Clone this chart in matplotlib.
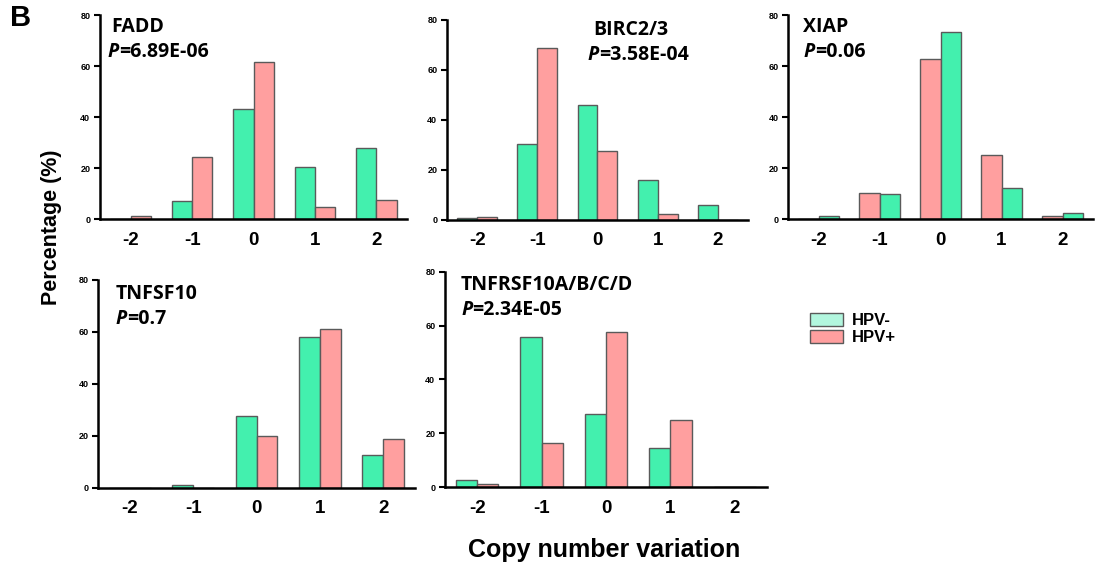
import matplotlib
matplotlib.use('Agg')
import matplotlib.pyplot as plt
from matplotlib.patches import Patch
import numpy as np

plt.rcParams['font.family'] = ['Liberation Sans', 'DejaVu Sans']

cnv = ['-2', '-1', '0', '1', '2']

genes = ['FADD', 'BIRC2/3', 'XIAP', 'TNFSF10', 'TNFRSF10A/B/C/D']
pvals = ['=6.89E-06', '=3.58E-04', '=0.06', '=0.7', '=2.34E-05']

hpv_neg = [
    [0, 7.1, 43.2, 20.4, 27.8],
    [0.8, 30.5, 46.0, 16.1, 5.9],
    [1.0, 9.8, 73.3, 12.2, 2.4],
    [0, 1.2, 27.8, 58.1, 12.8],
    [2.7, 55.7, 27.3, 14.4, 0],
]
hpv_pos = [
    [1.0, 24.5, 61.4, 4.8, 7.3],
    [1.2, 68.7, 27.5, 2.4, 0],
    [0, 10.3, 62.7, 25.0, 1.0],
    [0, 0, 20.0, 61.3, 18.7],
    [1.2, 16.3, 57.8, 25.0, 0],
]
# XIAP panel has HPV+ bars drawn first (left)
pos_first = [False, False, True, False, False]

green = '#43F0AE'
pink = '#FF9F9F'
edge = '#5a5a5a'

fig = plt.figure(figsize=(11.04, 5.69), dpi=100)

rects = [
    [0.0906, 0.6151, 0.2781, 0.3585],
    [0.4049, 0.6134, 0.2726, 0.3515],
    [0.7138, 0.6151, 0.2763, 0.3585],
    [0.0888, 0.1424, 0.2871, 0.3656],
    [0.4031, 0.1441, 0.2916, 0.3779],
]
# gene label / p-value anchors (axes fraction)
gene_pos = [(0.035, 0.99), (0.485, 1.0), (0.05, 0.99), (0.055, 0.98), (0.05, 0.985)]
p_pos = [(0.025, 0.87), (0.468, 0.875), (0.05, 0.87), (0.055, 0.86), (0.05, 0.87)]

w = 0.33
x = np.arange(len(cnv))
for k in range(5):
    ax = fig.add_axes(rects[k])
    if pos_first[k]:
        ax.bar(x - w / 2, hpv_pos[k], w, color=pink, edgecolor=edge, linewidth=1)
        ax.bar(x + w / 2, hpv_neg[k], w, color=green, edgecolor=edge, linewidth=1)
    else:
        ax.bar(x - w / 2, hpv_neg[k], w, color=green, edgecolor=edge, linewidth=1)
        ax.bar(x + w / 2, hpv_pos[k], w, color=pink, edgecolor=edge, linewidth=1)
    ax.set_xlim(-0.5, 4.5)
    ax.set_ylim(0, 80)
    ax.set_yticks([0, 20, 40, 60, 80])
    ax.set_xticks(x)
    ax.set_xticklabels(cnv, fontsize=13.5, fontweight='bold')
    ax.tick_params(axis='x', length=0, pad=9)
    ax.tick_params(axis='y', length=4, width=1.5, labelsize=6.5, pad=3)
    for lab in ax.get_yticklabels():
        lab.set_fontweight('bold')
    for s in ['top', 'right']:
        ax.spines[s].set_visible(False)
    for s in ['left', 'bottom']:
        ax.spines[s].set_linewidth(1.8)
    gx, gy = gene_pos[k]
    ax.text(gx, gy, genes[k], transform=ax.transAxes, fontsize=14,
            fontweight='bold', family='Open Sans', va='top', ha='left')
    px, py = p_pos[k]
    t = ax.text(px, py, 'P', transform=ax.transAxes, fontsize=14,
                fontweight='bold', style='italic', family='Open Sans',
                va='top', ha='left')
    ax.annotate(pvals[k], xy=(1, 0), xycoords=t, fontsize=14,
                fontweight='bold', family='Open Sans', va='bottom', ha='left')

fig.text(0.009, 0.968, 'B', fontsize=21, fontweight='bold', va='center', ha='left')
fig.text(0.047, 0.6, 'Percentage (%)', rotation=90, fontsize=15.5,
         fontweight='bold', va='center', ha='center')
fig.text(0.547, 0.034, 'Copy number variation', fontsize=18,
         fontweight='bold', va='center', ha='center')

handles = [Patch(facecolor='#B2F6DE', edgecolor=edge, label='HPV-'),
           Patch(facecolor=pink, edgecolor=edge, label='HPV+')]
leg = fig.legend(handles=handles, loc='upper left', bbox_to_anchor=(0.726, 0.464),
                 frameon=False, fontsize=12, handlelength=2.0, handleheight=0.8,
                 labelspacing=0.1, handletextpad=0.5, borderpad=0)
for txt in leg.get_texts():
    txt.set_fontweight('bold')

fig.savefig('out.png', dpi=100)
